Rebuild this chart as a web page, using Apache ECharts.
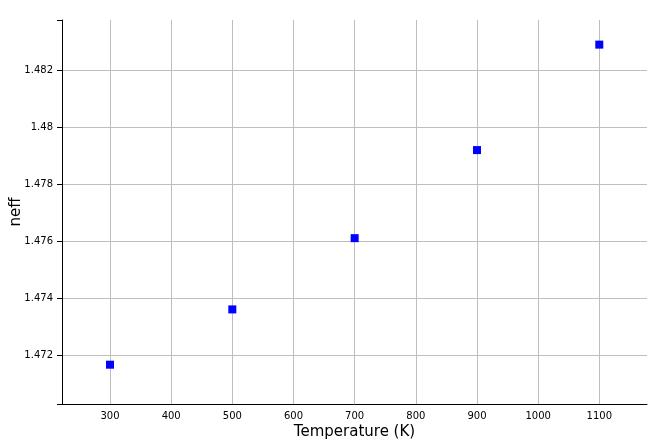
<!DOCTYPE html>
<html>
<head>
<meta charset="utf-8">
<script src="https://cdn.jsdelivr.net/npm/echarts@6/dist/echarts.min.js"></script>
<style>html,body{margin:0;padding:0;background:#fff}#c{width:668px;height:447px}</style>
</head>
<body>
<div id="c"></div>
<script>
const temperatures = [300, 500, 700, 900, 1100];
const neffValues = [1.47166, 1.47360, 1.47610, 1.47919, 1.48289];
const xTicks = [300, 400, 500, 600, 700, 800, 900, 1000, 1100];
const yTicks = [1.472, 1.474, 1.476, 1.478, 1.48, 1.482];

const chart = echarts.init(document.getElementById('c'));
const font = 'DejaVu Sans';
chart.setOption({
  animation: false,
  backgroundColor: '#fff',
  grid: { left: 62, top: 20, right: 21, bottom: 43, containLabel: false, outerBoundsMode: 'none' },
  xAxis: {
    type: 'value', min: 221.5, max: 1178, splitNumber: 10,
    name: 'Temperature (K)', nameLocation: 'middle', nameGap: 21, nameMoveOverlap: false,
    nameTextStyle: { fontFamily: font, fontSize: 15, color: '#000' },
    axisLine: { show: true, onZero: false, lineStyle: { color: '#000', width: 1 } },
    axisTick: { show: false },
    axisLabel: { customValues: xTicks, fontFamily: font, fontSize: 10, color: '#000', margin: 7,
      formatter: v => String(v) },
    splitLine: { show: true, showMinLine: false, showMaxLine: false, lineStyle: { color: '#bebebe', width: 1 } }
  },
  yAxis: {
    type: 'value', min: 1.470281, max: 1.483754, splitNumber: 7,
    name: 'neff', nameLocation: 'middle', nameGap: 38, nameMoveOverlap: false,
    nameTextStyle: { fontFamily: font, fontSize: 15, color: '#000' },
    axisLine: { show: true, onZero: false, lineStyle: { color: '#000', width: 1 } },
    axisTick: { show: true, length: 5, lineStyle: { color: '#000', width: 1 } },
    axisLabel: { customValues: yTicks, fontFamily: font, fontSize: 10, color: '#000', margin: 9,
      formatter: v => String(+v.toFixed(3)) },
    splitLine: { show: true, showMinLine: false, showMaxLine: false, lineStyle: { color: '#bebebe', width: 1 } }
  },
  series: [{
    type: 'scatter', symbol: 'rect', symbolSize: 8,
    itemStyle: { color: '#0000ff', opacity: 1 },
    data: temperatures.map((t, i) => [t, neffValues[i]])
  }]
});
</script>
</body>
</html>
